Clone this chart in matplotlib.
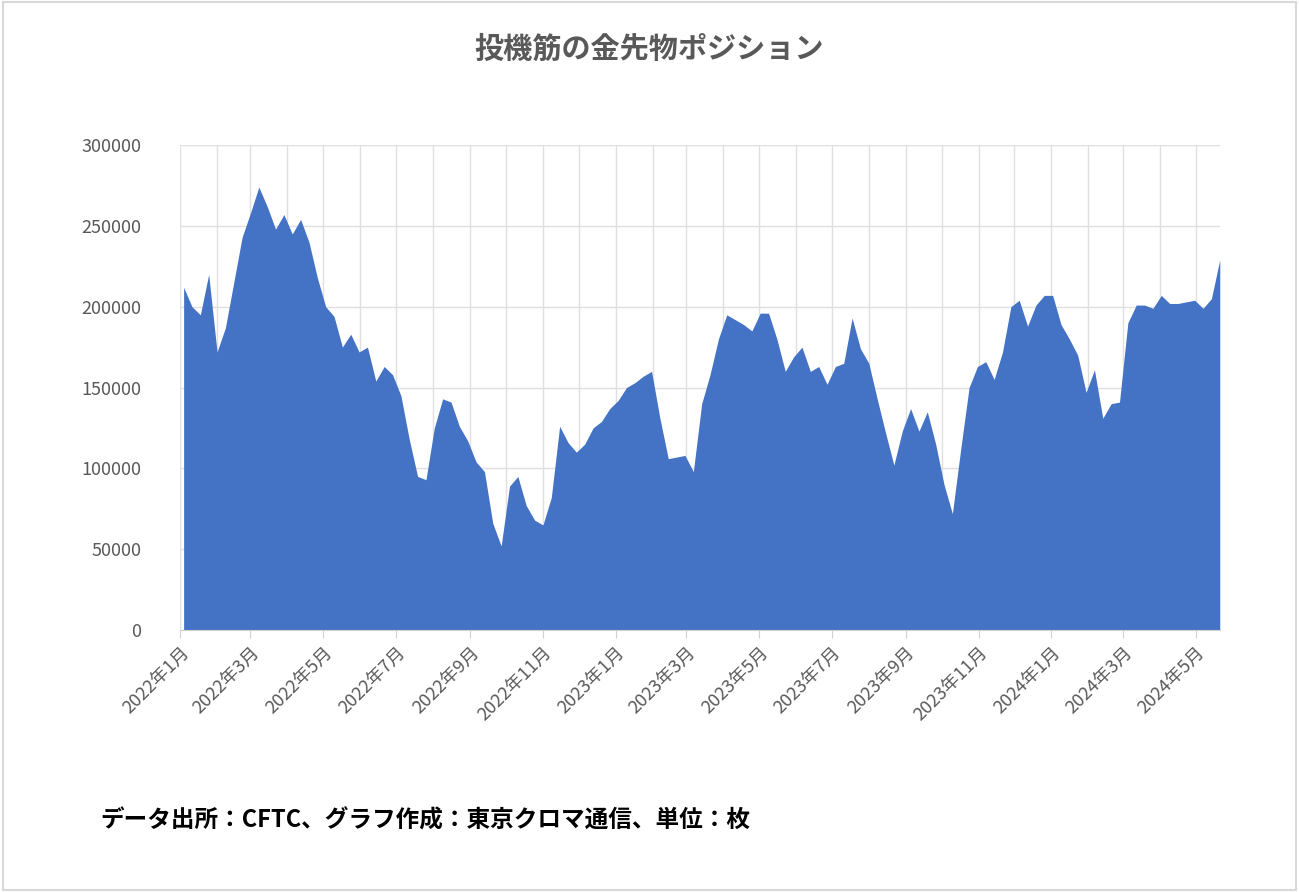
import matplotlib
matplotlib.use("Agg")
import matplotlib.pyplot as plt
import matplotlib.dates as mdates
from matplotlib.patches import Rectangle
import numpy as np

plt.rcParams["font.family"] = "Noto Sans CJK JP"

# weekly speculator positions (thousands of contracts), from 2022-01-04
positions_k = [212, 200, 195, 220, 172, 187, 215, 243, 258, 274, 262, 248, 257, 245, 254, 240,
               218, 200, 194, 175, 183, 172, 175, 154, 163, 158, 145, 118, 95, 93, 125, 143,
               141, 126, 117, 104, 98, 66, 52, 89, 95, 77, 68, 65, 82, 126, 116, 110, 115, 125,
               129, 137, 142, 150, 153, 157, 160, 131, 106, 107, 108, 98, 140, 158, 180, 195,
               192, 189, 185, 196, 196, 180, 160, 169, 175, 160, 163, 152, 163, 165, 193, 174,
               165, 143, 122, 102, 123, 137, 123, 135, 115, 90, 72, 112, 150, 163, 166, 155,
               172, 200, 204, 188, 201, 207, 207, 189, 180, 170, 147, 161, 131, 140, 141, 190,
               201, 201, 199, 207, 202, 202, 203, 204, 199, 205, 229]
positions = np.array(positions_k) * 1000
dates = np.arange(np.datetime64("2022-01-04"), np.datetime64("2022-01-04") + 7 * len(positions), 7).astype("datetime64[D]")

title = "投機筋の金先物ポジション"
footer = "データ出所：CFTC、グラフ作成：東京クロマ通信、単位：枚"

fig = plt.figure(figsize=(12.99, 8.92), dpi=100)
ax = fig.add_axes([0.1386, 0.2937, 0.8004, 0.5437])

ax.fill_between(dates, positions, 0, color="#4472C4", linewidth=0, zorder=2)

ax.set_ylim(0, 300000)
ax.set_yticks(range(0, 300001, 50000))
ax.set_xlim(np.datetime64("2022-01-01"), dates[-1])

ax.xaxis.set_major_locator(mdates.MonthLocator(bymonth=[1, 3, 5, 7, 9, 11]))
ax.xaxis.set_minor_locator(mdates.MonthLocator())
ax.xaxis.set_major_formatter(mdates.DateFormatter("%Y年%-m月"))
plt.setp(ax.get_xticklabels(), rotation=45, ha="right", rotation_mode="anchor")

ax.grid(True, which="both", color="#E0E0E0", linewidth=1, zorder=0)
ax.set_axisbelow(True)
for s in ["top", "right", "left"]:
    ax.spines[s].set_visible(False)
ax.spines["bottom"].set_color("#D0D0D0")
ax.tick_params(axis="y", length=0, labelsize=13, labelcolor="#595959", pad=28)
ax.tick_params(axis="x", which="major", length=6, color="#D0D0D0", labelsize=13, labelcolor="#595959")
ax.tick_params(axis="x", which="minor", length=0)
for lbl in ax.get_yticklabels():
    lbl.set_horizontalalignment("right")

fig.text(0.5, 0.945, title, ha="center", va="center", fontsize=21, fontweight="bold", color="#595959")
fig.text(0.077, 0.08, footer, ha="left", va="center", fontsize=17, fontweight="bold", color="black")

fig.patches.append(Rectangle((0.002, 0.002), 0.996, 0.996, transform=fig.transFigure,
                             fill=False, edgecolor="#D9D9D9", linewidth=1.5))

fig.savefig("out.png", dpi=100)
